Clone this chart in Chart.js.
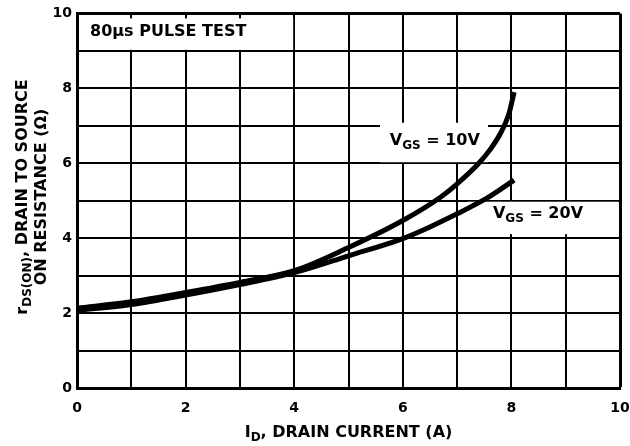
<!DOCTYPE html>
<html>
<head>
<meta charset="utf-8">
<script src="https://cdn.jsdelivr.net/npm/chart.js@4.4.0/dist/chart.umd.min.js"></script>
<style>
  html, body { margin: 0; padding: 0; background: #fff; }
</style>
</head>
<body>
<canvas id="myChart" width="630" height="446"></canvas>
<script>
// values
const xTicks = [0, 2, 4, 6, 8, 10];
const yTicks = [0, 2, 4, 6, 8, 10];

const current10 = [0, 1, 2, 3, 4, 5, 6, 6.7, 7.0, 7.4, 7.6, 7.8, 7.95, 8.05];
const rds10 = [2.13, 2.3, 2.55, 2.82, 3.13, 3.75, 4.47, 5.1, 5.45, 6.0, 6.35, 6.8, 7.3, 7.9];

const current20 = [0, 1, 2, 3, 4, 5, 6, 6.5, 7, 7.54, 8.05];
const rds20 = [2.07, 2.23, 2.48, 2.76, 3.08, 3.53, 3.99, 4.3, 4.65, 5.06, 5.55];

const FONT = "'DejaVu Sans', sans-serif";

function pts(xs, ys) {
  return xs.map((v, i) => ({ x: v, y: ys[i] }));
}

// draws text made of [string, isSubscript] parts, left aligned, baseline middle
function drawParts(ctx, parts, x, y, size) {
  let cx = x;
  parts.forEach(([txt, sub]) => {
    ctx.font = 'bold ' + (sub ? Math.round(size * 0.75) : size) + 'px ' + FONT;
    ctx.fillText(txt, cx, sub ? y + size * 0.3 : y);
    cx += ctx.measureText(txt).width;
  });
}
function partsWidth(ctx, parts, size) {
  let w = 0;
  parts.forEach(([txt, sub]) => {
    ctx.font = 'bold ' + (sub ? Math.round(size * 0.75) : size) + 'px ' + FONT;
    w += ctx.measureText(txt).width;
  });
  return w;
}

const annotations = {
  id: 'annotations',
  beforeDatasetsDraw(chart) {
    const { ctx, scales: { x, y } } = chart;
    ctx.save();
    // blank out grid behind the labels
    ctx.fillStyle = '#fff';
    ctx.fillRect(x.getPixelForValue(0) + 2, y.getPixelForValue(10) + 5,
      x.getPixelForValue(4) - x.getPixelForValue(0) - 3, y.getPixelForValue(9) - y.getPixelForValue(10) - 6);
    ctx.fillRect(x.getPixelForValue(5.58), y.getPixelForValue(7) - 3,
      x.getPixelForValue(7.57) - x.getPixelForValue(5.58), y.getPixelForValue(6) - y.getPixelForValue(7) + 2);
    ctx.fillRect(x.getPixelForValue(7.2), y.getPixelForValue(5) + 1,
      x.getPixelForValue(10) - x.getPixelForValue(7.2) - 2, y.getPixelForValue(4) - y.getPixelForValue(5) - 5);

    ctx.fillStyle = '#000';
    ctx.textAlign = 'left';
    ctx.textBaseline = 'middle';
    drawParts(ctx, [['80\u00b5s PULSE TEST', false]], x.getPixelForValue(0.24), y.getPixelForValue(9.5), 16);
    drawParts(ctx, [['V', false], ['GS', true], [' = 10V', false]], x.getPixelForValue(5.76), y.getPixelForValue(6.6), 16);
    drawParts(ctx, [['V', false], ['GS', true], [' = 20V', false]], x.getPixelForValue(7.66), y.getPixelForValue(4.64), 16);
    ctx.restore();
  },
  afterDraw(chart) {
    const { ctx, chartArea } = chart;
    ctx.save();
    ctx.fillStyle = '#000';
    ctx.textAlign = 'left';
    ctx.textBaseline = 'middle';
    // x axis title
    const xt = [['I', false], ['D', true], [', DRAIN CURRENT (A)', false]];
    const cx = (chartArea.left + chartArea.right) / 2;
    drawParts(ctx, xt, cx - partsWidth(ctx, xt, 16) / 2, 433, 16);
    // y axis title, two lines
    const y1 = [['r', false], ['DS(ON)', true], [', DRAIN TO SOURCE', false]];
    const y2 = [['ON RESISTANCE (\u03a9)', false]];
    const cy = 197;
    ctx.translate(23, cy);
    ctx.rotate(-Math.PI / 2);
    drawParts(ctx, y1, -partsWidth(ctx, y1, 16) / 2, 0, 16);
    ctx.rotate(Math.PI / 2);
    ctx.translate(19, 0);
    ctx.rotate(-Math.PI / 2);
    drawParts(ctx, y2, -partsWidth(ctx, y2, 16) / 2, 0, 16);
    ctx.restore();
  }
};

const ctx = document.getElementById('myChart');

new Chart(ctx, {
  type: 'line',
  data: {
    datasets: [{
      label: 'VGS = 10V',
      data: pts(current10, rds10),
      borderColor: '#000',
      borderWidth: 5,
      pointRadius: 0,
      fill: false,
      cubicInterpolationMode: 'monotone'
    }, {
      label: 'VGS = 20V',
      data: pts(current20, rds20),
      borderColor: '#000',
      borderWidth: 5,
      pointRadius: 0,
      fill: false,
      cubicInterpolationMode: 'monotone'
    }]
  },
  options: {
    responsive: false,
    animation: false,
    layout: { padding: { top: 13, right: 0, left: 0, bottom: 0 } },
    plugins: {
      legend: { display: false },
      tooltip: { enabled: false }
    },
    scales: {
      x: {
        type: 'linear',
        min: 0,
        max: 10,
        afterFit: s => { s.height = 58; s.paddingRight = 10; },
        ticks: {
          stepSize: 1,
          autoSkip: false,
          maxRotation: 0,
          padding: 12,
          color: '#000',
          font: { family: FONT, weight: 'bold', size: 14 },
          callback: v => xTicks.includes(v) ? v : ''
        },
        grid: {
          color: '#000',
          lineWidth: c => (c.tick && c.tick.value === 10) ? 3 : 2,
          drawTicks: false
        },
        border: { color: '#000', width: 3 }
      },
      y: {
        min: 0,
        max: 10,
        afterFit: s => { s.width = 77; },
        ticks: {
          stepSize: 1,
          autoSkip: false,
          padding: 5,
          color: '#000',
          font: { family: FONT, weight: 'bold', size: 14 },
          callback: v => yTicks.includes(v) ? v : ''
        },
        grid: {
          color: '#000',
          lineWidth: c => (c.tick && c.tick.value === 10) ? 3 : 2,
          drawTicks: false
        },
        border: { color: '#000', width: 3 }
      }
    }
  },
  plugins: [annotations]
});
</script>
</body>
</html>
